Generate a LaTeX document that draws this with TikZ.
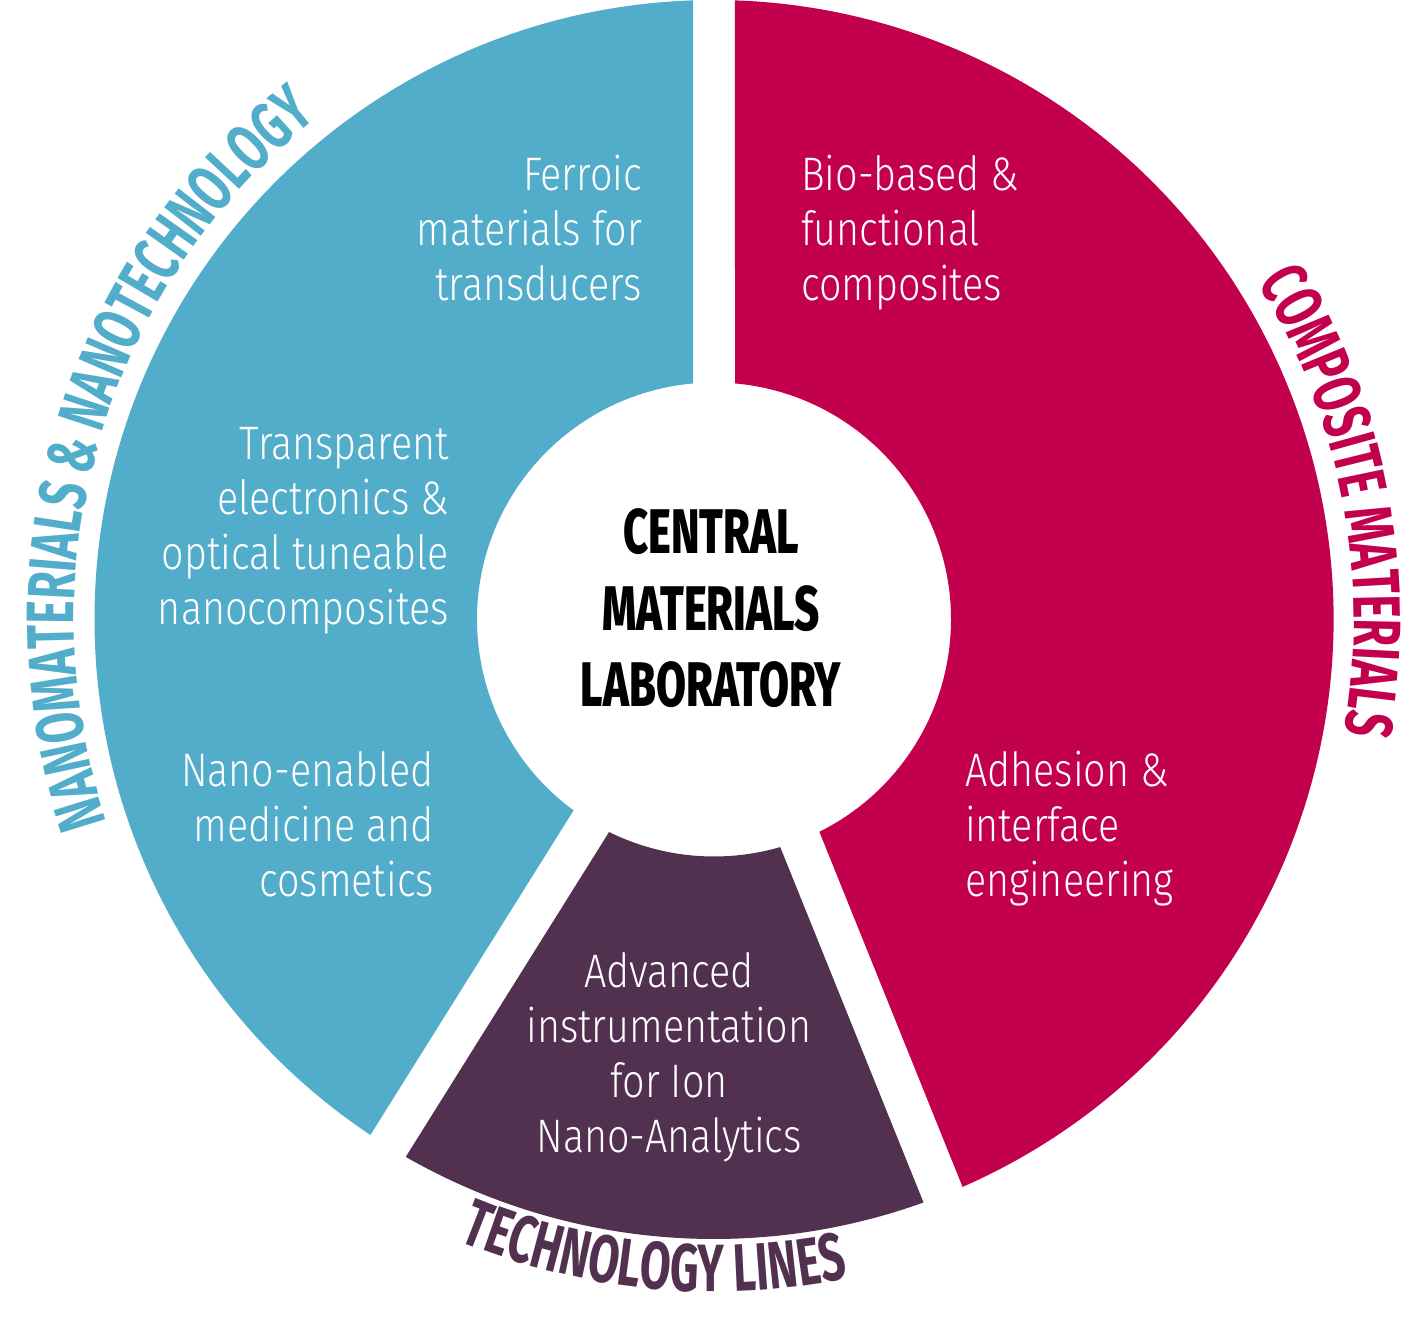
\documentclass[tikz,border=0pt]{standalone}
\usepackage{fontspec}
\usetikzlibrary{decorations.text}
\IfFontExistsTF{Fira Sans Light}
  {\newfontfamily\bodyfont{Fira Sans Light}[FakeStretch=0.84]}
  {\newfontfamily\bodyfont{Fira Sans}[FakeStretch=0.80]}
\IfFontExistsTF{Fira Sans ExtraBold}
  {\newfontfamily\headfont{Fira Sans ExtraBold}[FakeStretch=0.69]}
  {\newfontfamily\headfont{Fira Sans Bold}[FakeStretch=0.715]}
\newfontfamily\lblfamily{Fira Sans}[FakeStretch=0.665]
\newcommand\lblfont{\lblfamily\bfseries\fontsize{67}{70}\selectfont}
\definecolor{cmblue}{HTML}{51ADCA}
\definecolor{cmred}{HTML}{C3004E}
\definecolor{cmpurple}{HTML}{52304F}
\tikzset{
  bodytext/.style={font=\bodyfont\fontsize{47}{55}\selectfont, text=white, inner sep=0pt},
  headtext/.style={font=\headfont\fontsize{63}{76.7}\selectfont, text=black, inner sep=0pt, align=center},
  blueseg/.style={fill=cmblue},
  redseg/.style={fill=cmred},
  purpleseg/.style={fill=cmpurple}
}
\begin{document}
\begin{tikzpicture}[x=1pt,y=1pt]
\fill[white] (0,0) rectangle (1428,-1328);
\useasboundingbox (0,0) rectangle (1428,-1328);
\begin{scope}[shift={(714,-619.5)}]
  \pgfmathsetmacro\Ro{619.5}
  \pgfmathsetmacro\Ri{237}
  % top gap (vertical)
  \pgfmathsetmacro\bTo{90+asin(21/\Ro)}
  \pgfmathsetmacro\bTi{90+asin(21/\Ri)}
  \pgfmathsetmacro\rTo{450-asin(21/\Ro)}
  \pgfmathsetmacro\rTi{450-asin(21/\Ri)}
  % lower left gap
  \pgfmathsetmacro\bLo{237.96-asin(17.8/\Ro)}
  \pgfmathsetmacro\bLi{237.96-asin(17.8/\Ri)}
  \pgfmathsetmacro\pLo{237.96+asin(23.8/\Ro)}
  \pgfmathsetmacro\pLi{237.96+asin(23.8/\Ri)}
  % lower right gap
  \pgfmathsetmacro\pRo{291.96-asin(23.7/\Ro)}
  \pgfmathsetmacro\pRi{291.96-asin(23.7/\Ri)}
  \pgfmathsetmacro\rRo{291.96+asin(18.35/\Ro)}
  \pgfmathsetmacro\rRi{291.96+asin(18.35/\Ri)}
  \fill[blueseg] (\bTo:\Ro) arc[start angle=\bTo, end angle=\bLo, radius=\Ro]
     -- (\bLi:\Ri) arc[start angle=\bLi, end angle=\bTi, radius=\Ri] -- cycle;
  \fill[purpleseg] (\pLo:\Ro) arc[start angle=\pLo, end angle=\pRo, radius=\Ro]
     -- (\pRi:\Ri) arc[start angle=\pRi, end angle=\pLi, radius=\Ri] -- cycle;
  \fill[redseg] (\rRo:\Ro) arc[start angle=\rRo, end angle=\rTo, radius=\Ro]
     -- (\rTi:\Ri) arc[start angle=\rTi, end angle=\rRi, radius=\Ri] -- cycle;
  % ring labels
  \path[decorate, decoration={text along path, text align=center,
      text={|\lblfont\color{cmblue}|NANOMATERIALS {\&} NANOTECHNOLOGY}}]
      (213.4:640) arc[start angle=213.4, end angle=113.4, radius=640];
  \path[decorate, decoration={text along path, text align=center,
      text={|\lblfont\color{cmred}|COMPOSITE MATERIALS}}]
      (50.8:640) arc[start angle=50.8, end angle=-29.2, radius=640];
  \path[decorate, decoration={text along path, text align=center,
      text={|\lblfont\color{cmpurple}|TECHNOLOGY LINES}}]
      (229.6:672) arc[start angle=229.6, end angle=299.6, radius=672];
\end{scope}
% centre
\node[headtext, anchor=base] (cml) at (711,-706.7) {CENTRAL\\MATERIALS\\LABORATORY};
% blue segment texts
\node[bodytext, anchor=base east, align=right] (ferroic) at (642,-300) {Ferroic\\materials for\\transducers};
\node[bodytext, anchor=base east, align=right] (transp) at (449,-624) {Transparent\\electronics \&\\optical tuneable\\nanocomposites};
\node[bodytext, anchor=base east, align=right] (nanomed) at (434,-896) {Nano-enabled\\medicine and\\cosmetics};
% red segment texts
\node[bodytext, anchor=base west, align=left] (biobased) at (801,-300) {Bio-based \&\\functional\\composites};
\node[bodytext, anchor=base west, align=left] (adhesion) at (965,-896) {Adhesion \&\\interface\\engineering};
% purple segment text
\node[bodytext, anchor=base, align=center] (advanced) at (669,-1152) {Advanced\\instrumentation\\for Ion\\Nano-Analytics};
\end{tikzpicture}
\end{document}
